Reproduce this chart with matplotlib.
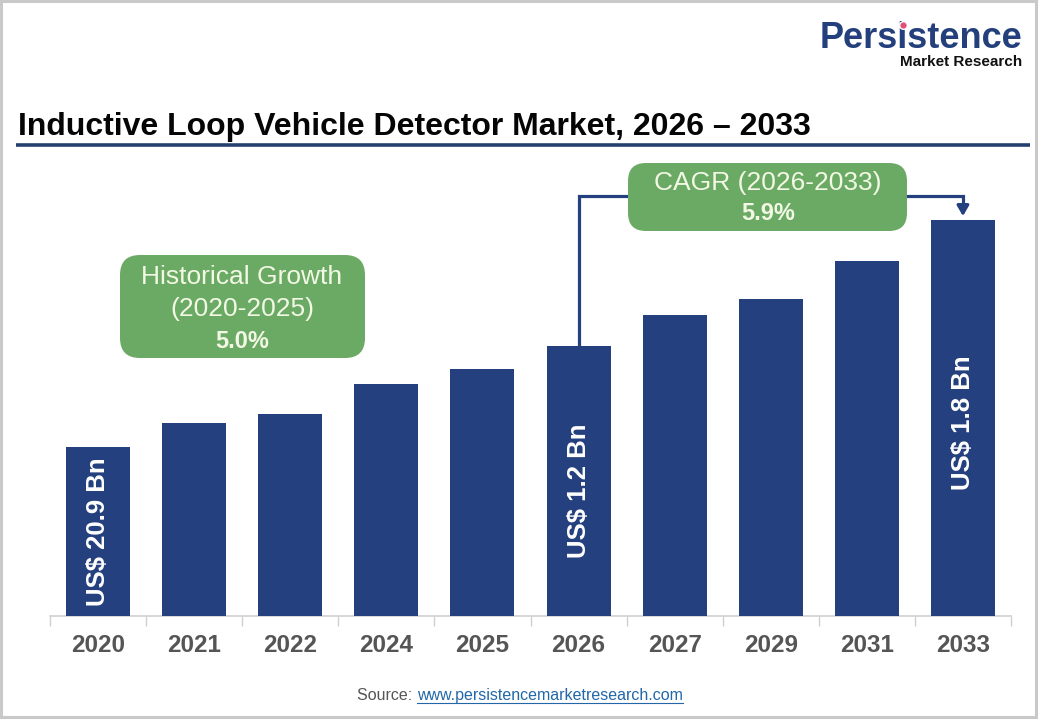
import matplotlib
matplotlib.use("Agg")
import matplotlib.pyplot as plt
from matplotlib.patches import FancyBboxPatch, Rectangle

NAVY, GREEN, BOXTXT, YEARC = "#24407e", "#6aaa64", "#f2f8e4", "#555555"
plt.rcParams["font.family"] = ["Liberation Sans", "DejaVu Sans"]

years = ["2020", "2021", "2022", "2024", "2025", "2026", "2027", "2029", "2031", "2033"]
values = [0.75, 0.86, 0.90, 1.03, 1.10, 1.20, 1.34, 1.41, 1.58, 1.76]
bar_labels = {0: "US$ 20.9 Bn", 5: "US$ 1.2 Bn", 9: "US$ 1.8 Bn"}
hist_text = ["Historical Growth", "(2020-2025)", "5.0%"]
cagr_text = ["CAGR (2026-2033)", "5.9%"]

W, H = 1040, 720
fig = plt.figure(figsize=(W / 100, H / 100), dpi=100)
fig.patch.set_facecolor("white")

# overlay in pixel coords for the page decorations
ov = fig.add_axes([0, 0, 1, 1])
ov.set_xlim(0, W); ov.set_ylim(H, 0); ov.axis("off")
ov.add_patch(Rectangle((1, 1), W - 5, H - 4, fill=False, ec="#c9c9c9", lw=2.2))

# logo + title
fig.canvas.draw()
rend = fig.canvas.get_renderer()
logo = ov.text(1022, 48.5, "Persistence", ha="right", va="baseline", fontsize=26,
               fontweight="bold", color="#23407c")
pre = ov.text(0, 0, "Pers", fontsize=26, fontweight="bold", alpha=0)
ii = ov.text(0, 0, "i", fontsize=26, fontweight="bold", alpha=0)
x_i = (1022 - logo.get_window_extent(rend).width + pre.get_window_extent(rend).width
       + ii.get_window_extent(rend).width / 2)
ov.plot([x_i], [24.5], "o", ms=5.5, color="#e0507a", mec="white", mew=1.0, zorder=5)
ov.text(1022, 66.5, "Market Research", ha="right", va="baseline", fontsize=11,
        fontweight="bold", color="#111111")
ov.text(18, 135, "Inductive Loop Vehicle Detector Market, 2026 \u2013 2033",
        ha="left", va="baseline", fontsize=23, fontweight="bold", color="#050505")
ov.plot([16, 1030], [145, 145], color="#25406e", lw=2.6, solid_capstyle="butt")

# source line
t1 = ov.text(357, 700, "Source: ", ha="left", va="baseline", fontsize=11.5, color="#555555")
x_url = 357 + t1.get_window_extent(rend).width
t2 = ov.text(x_url, 700, "www.persistencemarketresearch.com", ha="left", va="baseline",
             fontsize=11.5, color="#2267a8")
ov.plot([x_url, x_url + t2.get_window_extent(rend).width], [702.5, 702.5],
        color="#2267a8", lw=0.8)

# bars
ax = fig.add_axes([50 / W, 1 - 616 / H, 961 / W, 456 / H])
ax.set_zorder(2)
ax.patch.set_alpha(0)
x = list(range(len(years)))
ax.bar(x, values, width=0.666, color=NAVY, zorder=3)
ax.set_xlim(-0.5, len(years) - 0.5)
ax.set_ylim(0, 456 / 225)
ax.set_yticks([])
for s in ["top", "right", "left"]:
    ax.spines[s].set_visible(False)
ax.spines["bottom"].set_color("#d0d0d0")
ax.spines["bottom"].set_linewidth(1.2)
ax.set_xticks([i - 0.5 for i in range(len(years) + 1)])
ax.set_xticklabels([])
ax.tick_params(axis="x", length=7, color="#d0d0d0", width=1)
for i, yr in enumerate(years):
    ax.text(i, -0.13, yr, ha="center", va="center", fontsize=17.5,
            fontweight="bold", color=YEARC)
offs = {0: 0.0, 5: -0.045, 9: -0.02}
for i, lab in bar_labels.items():
    ax.text(i, values[i] / 2 + offs[i], lab, rotation=90,
            ha="center", va="center", fontsize=18.5, fontweight="bold", color="white")

# connectors
y_conn = (616 - 196) / 225
ax.plot([5, 5, 5.52], [values[5], y_conn, y_conn], color=NAVY, lw=2.3,
        clip_on=False, zorder=2, solid_joinstyle="miter")
ax.plot([8.4, 9, 9], [y_conn, y_conn, values[9] + 0.06], color=NAVY, lw=2.3,
        clip_on=False, zorder=2, solid_joinstyle="miter")
ax.annotate("", xy=(9, values[9] + 0.005), xytext=(9, values[9] + 0.07),
            arrowprops=dict(arrowstyle="-|>,head_width=0.35,head_length=0.6",
                            color=NAVY, lw=2.3), annotation_clip=False)

# growth boxes
ov2 = fig.add_axes([0, 0, 1, 1])
ov2.set_xlim(0, W); ov2.set_ylim(H, 0); ov2.axis("off"); ov2.set_zorder(3)
ov2.add_patch(FancyBboxPatch((120, 255), 245, 103,
              boxstyle="round,pad=0,rounding_size=20", fc=GREEN, ec="none"))
ov2.text(242, 277, hist_text[0], ha="center", va="center", fontsize=19, color=BOXTXT)
ov2.text(242, 309, hist_text[1], ha="center", va="center", fontsize=19, color=BOXTXT)
ov2.text(242, 341, hist_text[2], ha="center", va="center", fontsize=17,
         fontweight="bold", color=BOXTXT)
ov2.add_patch(FancyBboxPatch((628, 163), 279, 68,
              boxstyle="round,pad=0,rounding_size=18", fc=GREEN, ec="none"))
ov2.text(768, 183, cagr_text[0], ha="center", va="center", fontsize=19, color=BOXTXT)
ov2.text(768, 213, cagr_text[1], ha="center", va="center", fontsize=17,
         fontweight="bold", color=BOXTXT)

fig.savefig("out.png", dpi=100)
